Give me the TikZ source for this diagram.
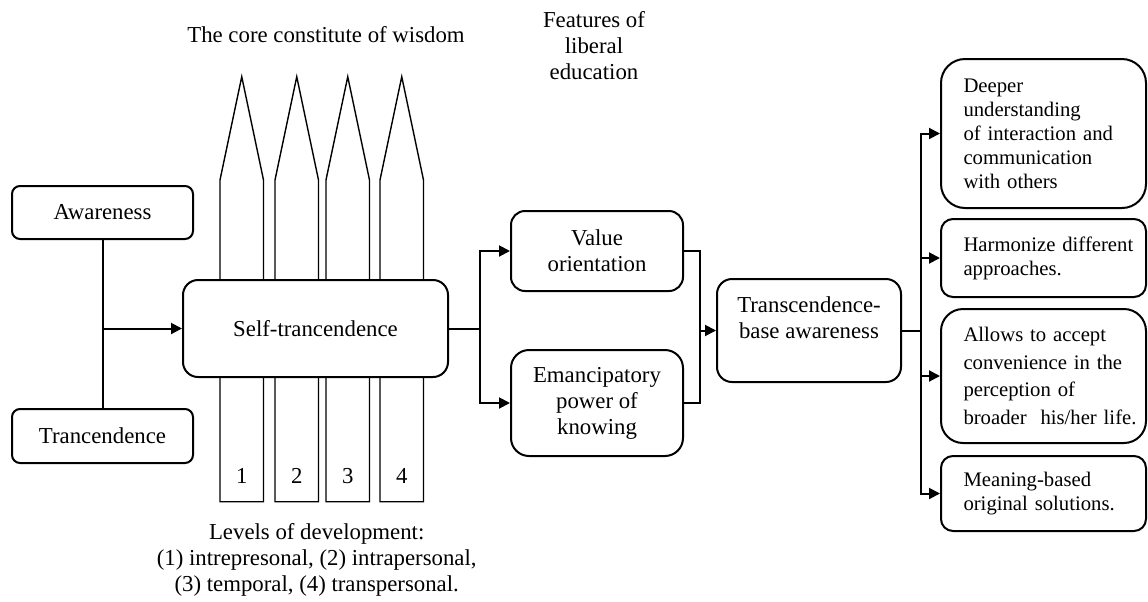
\documentclass[tikz,border=0pt]{standalone}
\usepackage{fontspec}
\setmainfont{Liberation Serif}
\usetikzlibrary{arrows.meta}
\newcommand\mainfnt{\fontsize{11.4pt}{13pt}\selectfont}
\newcommand\smallfnt{\fontsize{10.35pt}{12pt}\selectfont}
\newcommand\wideline[1]{\makebox[\linewidth][l]{#1}}
\begin{document}
\begin{tikzpicture}[x=0.5pt,y=-0.5pt,
  box/.style={draw, line width=1pt, fill=white, rounded corners=#1, inner sep=0pt, align=center, font=\mainfnt},
  box/.default=6pt,
  rbox/.style={draw, line width=1pt, fill=white, rounded corners=#1, align=left, text width=80pt, inner xsep=11.25pt, inner ysep=0pt, font=\smallfnt},
  rbox/.default=6pt,
  conn/.style={line width=1pt},
  arr/.style={line width=1pt, -{Triangle[length=5.5pt,width=5.5pt]}},
  pencil/.style={draw, line width=0.7pt, fill=white},
  lbl/.style={inner sep=0pt, align=center, font=\mainfnt}
]
\useasboundingbox (0,0) rectangle (1148,601);

% titles
\node[lbl, anchor=north] (title) at (326,26) {The core constitute of wisdom};
\node[lbl, anchor=north] (feat) at (594,11.5) {Features of\\liberal\\education};

% pencils
\foreach \c/\n in {241.75/1, 296.75/2, 347.75/3, 401.75/4}{
  \draw[pencil] (\c-21.75,501.7) -- (\c-21.75,180) -- (\c,76.7) -- (\c+21.75,180) -- (\c+21.75,501.7) -- cycle;
  \node[lbl] (num\n) at (\c,476) {\n};
}

% left boxes
\node[box=4pt, minimum width=90.5pt, minimum height=26.5pt] (aw) at (102.5,212.5) {Awareness};
\node[box=4pt, minimum width=90.5pt, minimum height=27pt] (tr) at (102.5,436) {Trancendence};
\node[box=7.5pt, minimum width=132.5pt, minimum height=48.5pt] (self) at (315.5,328.5) {Self-trancendence};

% middle boxes
\node[box=7pt, minimum width=86pt, minimum height=40pt] (val) at (597,251) {Value\\orientation};
\node[box=9pt, minimum width=86pt, minimum height=53pt] (em) at (597,403) {Emancipatory\\power of\\knowing};
\node[box=7.5pt, minimum width=92pt, minimum height=51.5pt] (tb) at (809,330.5) {Transcendence-\\base awareness\\\mbox{}};

% right boxes
\node[rbox=12pt, minimum height=74.5pt] (A) at (1043.5,133.5) {Deeper\\understanding\\of interaction and\\communication\\with others};
\node[rbox=6pt, minimum height=39pt] (B) at (1043.5,258) {\wideline{Harmonize different}\\approaches.};
\node[rbox=11pt, minimum height=67pt, font=\fontsize{10.35pt}{13.75pt}\selectfont] (C) at (1043.5,376) {Allows to accept\\convenience in the\\perception of\\\wideline{broader~~his/her life.}};
\node[rbox=6pt, minimum height=37.5pt] (D) at (1043.5,493.5) {Meaning-based\\original solutions.};

% levels
\node[lbl, anchor=north] (levels) at (316.7,523.4) {\fontsize{11.4pt}{13.5pt}\selectfont Levels of development:\\(1) intrepresonal, (2) intrapersonal,\\(3) temporal, (4) transpersonal.};

% connectors
\coordinate (j1) at (aw.south |- self.west);
\draw[conn] (aw.south) -- (tr.north);
\draw[arr] (j1) -- (self.west);

\coordinate (j3) at (480,328.5);
\draw[conn] (self.east) -- (j3);
\draw[arr] (j3) |- (val.west);
\draw[arr] (j3) |- (em.west);

\coordinate (j4) at (700,330.5);
\draw[conn] (val.east) -| (j4);
\draw[conn] (em.east) -| (j4);
\draw[arr] (j4) -- (tb.west);

\coordinate (j2) at (921,330.5);
\draw[conn] (tb.east) -- (j2);
\draw[arr] (j2) |- (A.west);
\draw[arr] (j2) |- (B.west);
\draw[arr] (j2) |- (C.west);
\draw[arr] (j2) |- (D.west);
\end{tikzpicture}
\end{document}
